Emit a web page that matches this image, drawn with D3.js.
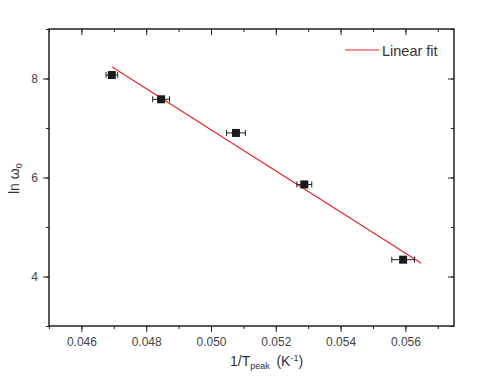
<!DOCTYPE html>
<html>
<head>
<meta charset="utf-8">
<script src="https://cdn.jsdelivr.net/npm/d3@7"></script>
<style>
  body { margin: 0; background: #fff; }
  svg text { font-family: "Liberation Sans", Arial, sans-serif; fill: #333; }
</style>
</head>
<body>
<div id="chart"></div>
<script>
// data
const invT = [0.04694, 0.04846, 0.05077, 0.05288, 0.05593];
const lnW = [8.07, 7.58, 6.90, 5.86, 4.34];
const invTErr = [0.00018, 0.00026, 0.00029, 0.00023, 0.00035];
const fitX = [0.04695, 0.05649];
const fitY = [8.23, 4.27];
const xTicks = [0.046, 0.048, 0.050, 0.052, 0.054, 0.056];
const yTicks = [4, 6, 8];

const W = 479, H = 376;
const margin = { top: 29, right: 25, bottom: 50, left: 49 },
    width = W - margin.left - margin.right,
    height = H - margin.top - margin.bottom;

const svg = d3.select("#chart").append("svg")
    .attr("width", W).attr("height", H);
const g = svg.append("g")
    .attr("transform", `translate(${margin.left},${margin.top})`);

const x = d3.scaleLinear().domain([0.045, 0.0575]).range([0, width]);
const y = d3.scaleLinear().domain([3, 9]).range([height, 0]);

const xMinor = d3.range(0.045, 0.0576, 0.001);
const yMinor = d3.range(3, 9.01, 1);

function styleAxis(sel) {
    sel.select(".domain").remove();
    sel.selectAll("line").attr("stroke", "#222").attr("stroke-width", 1);
    sel.selectAll("text").attr("font-size", 12).style("fill", "#444");
}

// bottom axis (outward)
g.append("g").attr("transform", `translate(0,${height})`)
    .call(d3.axisBottom(x).tickValues(xMinor).tickSize(3).tickFormat(""))
    .call(styleAxis);
g.append("g").attr("transform", `translate(0,${height})`)
    .call(d3.axisBottom(x).tickValues(xTicks).tickSize(6).tickPadding(5).tickFormat(d3.format(".3f")))
    .call(styleAxis);
// top axis (inward)
g.append("g")
    .call(d3.axisBottom(x).tickValues(xMinor).tickSize(3).tickFormat(""))
    .call(styleAxis);
g.append("g")
    .call(d3.axisBottom(x).tickValues(xTicks).tickSize(6).tickFormat(""))
    .call(styleAxis);
// left axis (outward)
g.append("g")
    .call(d3.axisLeft(y).tickValues(yMinor).tickSize(3).tickFormat(""))
    .call(styleAxis);
g.append("g")
    .call(d3.axisLeft(y).tickValues(yTicks).tickSize(6).tickPadding(5).tickFormat(d3.format("d")))
    .call(styleAxis);
// right axis (inward)
g.append("g").attr("transform", `translate(${width},0)`)
    .call(d3.axisLeft(y).tickValues(yMinor).tickSize(3).tickFormat(""))
    .call(styleAxis);
g.append("g").attr("transform", `translate(${width},0)`)
    .call(d3.axisLeft(y).tickValues(yTicks).tickSize(6).tickFormat(""))
    .call(styleAxis);

// frame
g.append("rect").attr("width", width).attr("height", height)
    .attr("fill", "none").attr("stroke", "#222").attr("stroke-width", 1.5);

// fit line
g.append("line")
    .attr("x1", x(fitX[0])).attr("y1", y(fitY[0]))
    .attr("x2", x(fitX[1])).attr("y2", y(fitY[1]))
    .attr("stroke", "#e8232b").attr("stroke-width", 1.2);

// error bars
const pts = invT.map((v, i) => ({ x: v, y: lnW[i], e: invTErr[i] }));
const eb = g.selectAll(".eb").data(pts).enter().append("g")
    .attr("stroke", "#222").attr("stroke-width", 1);
eb.append("line")
    .attr("x1", d => x(d.x - d.e)).attr("x2", d => x(d.x + d.e))
    .attr("y1", d => y(d.y)).attr("y2", d => y(d.y));
eb.append("line")
    .attr("x1", d => x(d.x - d.e)).attr("x2", d => x(d.x - d.e))
    .attr("y1", d => y(d.y) - 3).attr("y2", d => y(d.y) + 3);
eb.append("line")
    .attr("x1", d => x(d.x + d.e)).attr("x2", d => x(d.x + d.e))
    .attr("y1", d => y(d.y) - 3).attr("y2", d => y(d.y) + 3);

// square markers
g.selectAll(".pt").data(pts).enter().append("rect")
    .attr("x", d => x(d.x) - 4).attr("y", d => y(d.y) - 4)
    .attr("width", 8).attr("height", 8)
    .attr("fill", "#1a1a1a");

// legend
const lg = svg.append("g").attr("transform", "translate(345,50)");
lg.append("line").attr("x1", 0).attr("x2", 34).attr("y1", 0).attr("y2", 0)
    .attr("stroke", "#e8232b").attr("stroke-width", 1.2);
lg.append("text").attr("x", 37).attr("y", 5.5).attr("font-size", 14.5)
    .text("Linear fit");

// axis titles
const xt = svg.append("text").attr("x", 230).attr("y", 366).attr("font-size", 14);
xt.append("tspan").text("1/T");
xt.append("tspan").attr("font-size", 9).attr("dy", 3).text("peak");
xt.append("tspan").attr("dy", -3).text("\u2009 (K");
xt.append("tspan").attr("font-size", 9).attr("dy", -5).text("-1");
xt.append("tspan").attr("dy", 5).text(")");

const yt = svg.append("text")
    .attr("transform", "translate(19,194) rotate(-90)")
    .attr("font-size", 14);
yt.append("tspan").text("ln \u03c9");
yt.append("tspan").attr("font-size", 9).attr("dy", 3).text("0");
</script>
</body>
</html>
